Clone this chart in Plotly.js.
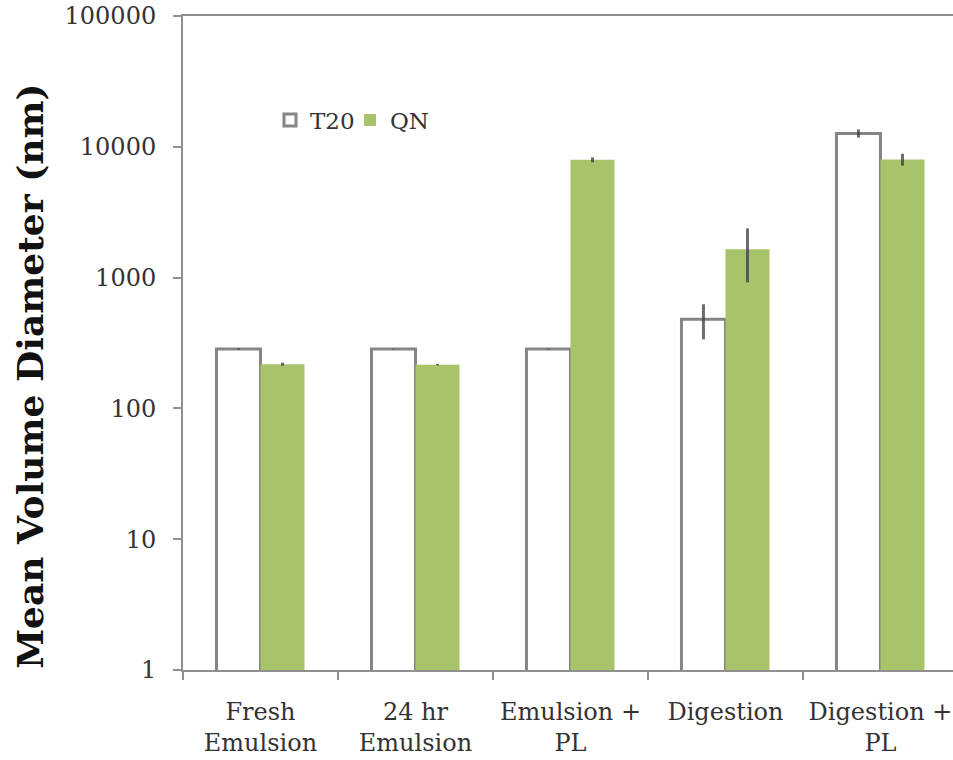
<!DOCTYPE html>
<html>
<head>
<meta charset="utf-8">
<script src="https://cdn.plot.ly/plotly-3.0.1.min.js"></script>
<style>html,body{margin:0;padding:0;background:#fff;}#chart{width:953px;height:760px;}</style>
</head>
<body>
<div id="chart"></div>
<script>
var categories = ["Fresh<br>Emulsion", "24 hr<br>Emulsion", "Emulsion +<br>PL", "Digestion", "Digestion +<br>PL"];
var t20Values = [284, 284, 284, 481, 12660];
var t20Errors = [3, 2, 2, 144, 900];
var qnValues = [218, 216, 7950, 1650, 8010];
var qnErrors = [6, 3, 350, 730, 840];
var yTickVals = [1, 10, 100, 1000, 10000, 100000];
var yTickText = ["1", "10", "100", "1000", "10000", "100000"];
var yTitle = "Mean Volume Diameter (nm)";

var errStyle = {type: "data", visible: true, color: "rgba(60,60,60,0.75)", thickness: 3, width: 0};

var traces = [
  {
    type: "bar", name: "T20", x: categories, y: t20Values,
    error_y: Object.assign({array: t20Errors}, errStyle),
    marker: {color: "#ffffff", line: {color: "#858585", width: 3}}
  },
  {
    type: "bar", name: "QN", x: categories, y: qnValues,
    error_y: Object.assign({array: qnErrors}, errStyle),
    marker: {color: "#a8c46a", line: {color: "#a8c46a", width: 0}}
  }
];

var layout = {
  width: 953, height: 760,
  margin: {l: 183, r: 0, t: 16, b: 90, pad: 0},
  paper_bgcolor: "#ffffff", plot_bgcolor: "#ffffff",
  font: {family: "DejaVu Serif, serif", size: 24, color: "#333333"},
  barmode: "group", bargap: 0.432, bargroupgap: 0,
  showlegend: true,
  legend: {
    orientation: "h", x: 0.113, y: 0.841, xanchor: "left", yanchor: "middle",
    bgcolor: "rgba(0,0,0,0)", font: {family: "DejaVu Serif, serif", size: 23, color: "#333333"},
    entrywidth: 35, entrywidthmode: "pixels", traceorder: "normal"
  },
  xaxis: {
    type: "category", range: [-0.5, 4.468],
    showline: true, linecolor: "#909090", linewidth: 2, mirror: true,
    ticks: "outside", tickson: "boundaries", ticklen: 8, tickcolor: "#909090", tickwidth: 2,
    showgrid: false, zeroline: false, fixedrange: true,
    tickfont: {family: "DejaVu Serif, serif", size: 24, color: "#333333"},
    ticklabelstandoff: 19
  },
  yaxis: {
    type: "log", range: [0, 5],
    tickvals: yTickVals, ticktext: yTickText,
    showline: true, linecolor: "#909090", linewidth: 2,
    ticks: "outside", ticklen: 8, tickcolor: "#909090", tickwidth: 2,
    showgrid: false, zeroline: false, fixedrange: true,
    tickfont: {family: "DejaVu Serif, serif", size: 24, color: "#333333"},
    ticklabelstandoff: 12
  },
  annotations: [{
    text: yTitle, xref: "paper", yref: "paper", x: -0.199, y: 0.4495,
    xanchor: "center", yanchor: "middle", textangle: -90, showarrow: false,
    font: {family: "DejaVu Serif, serif", size: 36, color: "#111111", weight: "bold"}
  }]
};

Plotly.newPlot("chart", traces, layout, {displayModeBar: false, staticPlot: true});
</script>
</body>
</html>
